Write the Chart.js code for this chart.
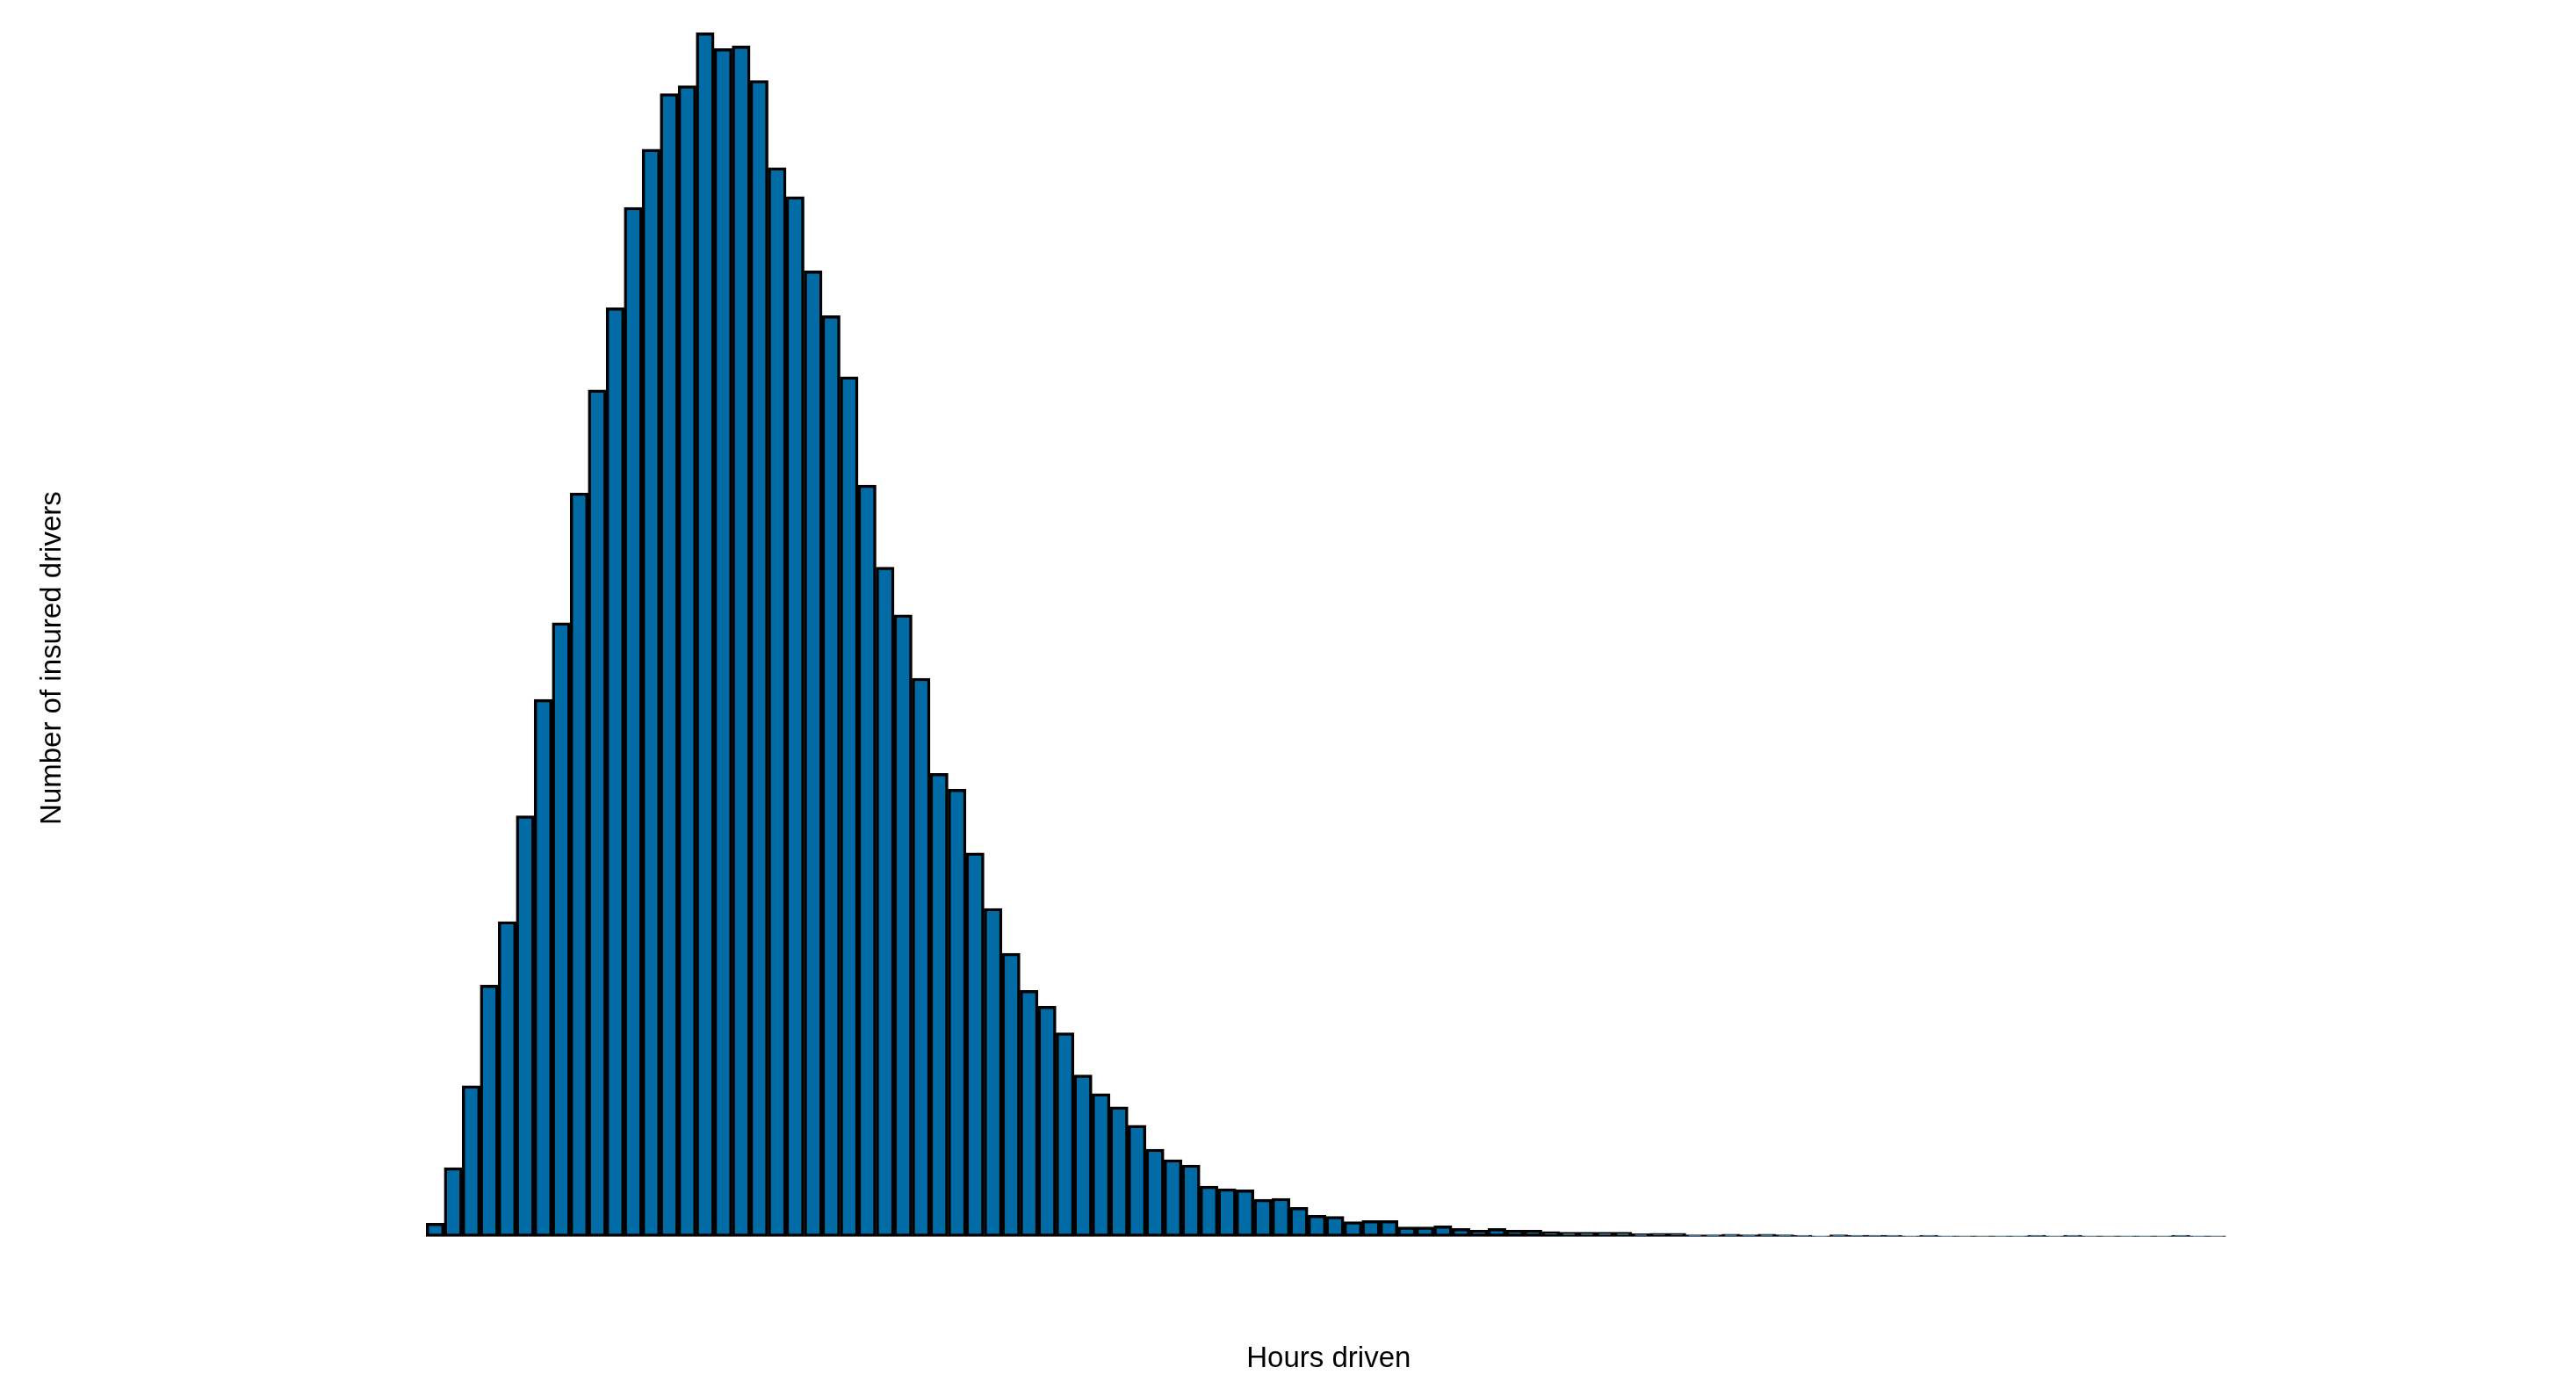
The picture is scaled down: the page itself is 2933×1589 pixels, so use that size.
<!DOCTYPE html>
<html>
<head>
<meta charset="utf-8">
<script src="https://cdn.jsdelivr.net/npm/chart.js@4.4.1/dist/chart.umd.min.js"></script>
<style>
  html, body { margin: 0; padding: 0; background: #fff; }
  #wrap { width: 2933px; height: 1589px; }
</style>
</head>
<body>
<div id="wrap"><canvas id="hist"></canvas></div>
<script>
// Histogram of hours driven, 20-hour bins starting at 0
const binStarts = [];
for (let h = 0; h < 2000; h += 20) binStarts.push(h);

const counts = [
    25, 130, 285, 475, 595, 795, 1015, 1160, 1405, 1600,
    1755, 1945, 2055, 2160, 2175, 2275, 2245, 2250, 2185, 2020,
    1965, 1825, 1740, 1625, 1420, 1265, 1175, 1055, 875, 845,
    725, 620, 535, 465, 435, 385, 305, 270, 245, 210,
    165, 145, 135, 95, 90, 88, 70, 72, 55, 40,
    38, 28, 30, 30, 18, 18, 20, 15, 12, 15,
    12, 12, 9, 8, 8, 8, 8, 5, 6, 6,
    3, 3, 4, 3, 4, 3, 2, 1, 3, 2,
    2, 2, 1, 2, 1, 1, 1, 1, 1, 2,
    1, 2, 1, 1, 1, 1, 1, 2, 1, 1
];

const xTicks = [0, 500, 1000, 1500, 2000];
const yTicks = [0, 500, 1000, 1500, 2000];

const tickFont = { family: "Liberation Sans, Arial, sans-serif", size: 27 };
const titleFont = { family: "Liberation Sans, Arial, sans-serif", size: 33 };

const points = binStarts.map((b, i) => ({ x: b + 10, y: counts[i] }));

const isTick = (list, v) => list.includes(v);

new Chart(document.getElementById('hist').getContext('2d'), {
    type: 'bar',
    data: {
        datasets: [{
            data: points,
            backgroundColor: '#006ba4',
            borderColor: '#000000',
            borderWidth: 3.5,
            borderSkipped: false,
            barPercentage: 1.0,
            categoryPercentage: 1.0
        }]
    },
    options: {
        responsive: true,
        maintainAspectRatio: false,
        animation: false,
        devicePixelRatio: 1,
        layout: { padding: { top: 2, right: 18, bottom: 18, left: 36 } },
        plugins: { legend: { display: false }, tooltip: { enabled: false } },
        scales: {
            x: {
                type: 'linear',
                min: -92,
                max: 2098,
                grid: {
                    drawOnChartArea: false,
                    tickLength: 9,
                    tickWidth: 2,
                    tickColor: c => isTick(xTicks, c.tick && c.tick.value) ? '#333' : 'rgba(0,0,0,0)'
                },
                border: { display: false },
                ticks: {
                    stepSize: 500,
                    autoSkip: false,
                    maxRotation: 0,
                    font: tickFont, color: '#4d4d4d', padding: 4,
                    callback: v => isTick(xTicks, v) ? String(v) : ''
                },
                title: { display: true, text: 'Hours driven', font: titleFont, color: '#000', padding: { top: 2 } }
            },
            y: {
                min: -114,
                max: 2300,
                grid: {
                    color: c => isTick(yTicks, c.tick && c.tick.value) ? '#d6d6d6' : 'rgba(0,0,0,0)',
                    lineWidth: 2.5,
                    tickLength: 9,
                    tickWidth: 2,
                    tickColor: c => isTick(yTicks, c.tick && c.tick.value) ? '#333' : 'rgba(0,0,0,0)'
                },
                border: { display: false },
                ticks: {
                    stepSize: 500,
                    autoSkip: false,
                    font: tickFont, color: '#4d4d4d', padding: 6,
                    callback: v => isTick(yTicks, v) ? String(v) : ''
                },
                title: { display: true, text: 'Number of insured drivers', font: titleFont, color: '#000', padding: { bottom: 10 } }
            }
        }
    }
});
</script>
</body>
</html>
